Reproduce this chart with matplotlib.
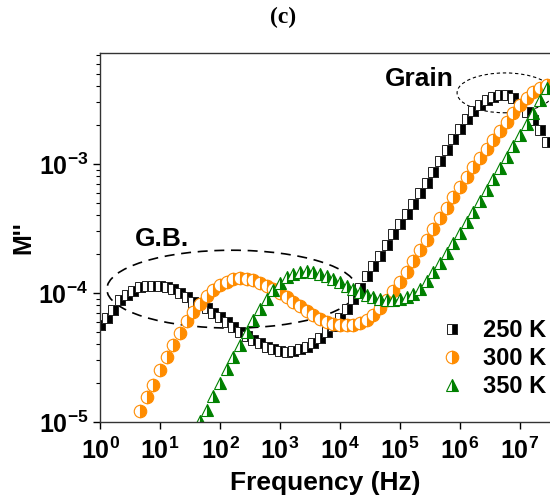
import matplotlib
matplotlib.use('Agg')
import matplotlib.pyplot as plt
from matplotlib.patches import Ellipse
import numpy as np

plt.rcParams['font.family'] = ['Liberation Sans', 'DejaVu Sans']
plt.rcParams['font.weight'] = 'bold'
plt.rcParams['mathtext.fontset'] = 'custom'
plt.rcParams['mathtext.rm'] = 'Liberation Sans:bold'
plt.rcParams['mathtext.it'] = 'Liberation Sans:bold'
plt.rcParams['mathtext.bf'] = 'Liberation Sans:bold'

nan = np.nan

# frequency grid (Hz)
freq = [1.0, 1.29, 1.67, 2.15, 2.78, 3.59, 4.64, 5.99, 7.74,
        10.0, 12.9, 16.7, 21.5, 27.8, 35.9, 46.4, 59.9, 77.4,
        100, 129, 167, 215, 278, 359, 464, 599, 774,
        1.0e3, 1.29e3, 1.67e3, 2.15e3, 2.78e3, 3.59e3, 4.64e3, 5.99e3, 7.74e3,
        1.0e4, 1.29e4, 1.67e4, 2.15e4, 2.78e4, 3.59e4, 4.64e4, 5.99e4, 7.74e4,
        1.0e5, 1.29e5, 1.67e5, 2.15e5, 2.78e5, 3.59e5, 4.64e5, 5.99e5, 7.74e5,
        1.0e6, 1.29e6, 1.67e6, 2.15e6, 2.78e6, 3.59e6, 4.64e6, 5.99e6, 7.74e6,
        1.0e7, 1.29e7, 1.67e7, 2.15e7, 2.78e7]

# M'' at 250 K
m_250 = [5.65e-5, 6.40e-5, 7.38e-5, 8.83e-5, 9.64e-5, 1.038e-4, 1.114e-4, 1.132e-4, 1.132e-4,
         1.132e-4, 1.114e-4, 1.074e-4, 1.000e-4, 9.31e-5, 8.51e-5, 8.07e-5, 7.66e-5, 7.00e-5,
         6.52e-5, 5.96e-5, 5.44e-5, 4.99e-5, 4.65e-5, 4.33e-5, 4.09e-5, 3.81e-5, 3.68e-5,
         3.55e-5, 3.49e-5, 3.55e-5, 3.68e-5, 3.81e-5, 4.09e-5, 4.48e-5, 4.99e-5, 5.55e-5,
         6.40e-5, 7.52e-5, 8.97e-5, 1.094e-4, 1.355e-4, 1.618e-4, 1.936e-4, 2.355e-4, 2.864e-4,
         3.43e-4, 4.09e-4, 4.90e-4, 5.96e-4, 7.13e-4, 8.67e-4, 1.054e-3, 1.285e-3, 1.563e-3,
         1.866e-3, 2.234e-3, 2.576e-3, 2.864e-3, 3.13e-3, 3.30e-3, 3.43e-3, 3.43e-3, 3.25e-3,
         2.92e-3, 2.53e-3, 2.19e-3, 1.84e-3, 1.48e-3]

# M'' at 300 K
m_300 = [nan, nan, nan, nan, nan, nan, 1.216e-5, 1.563e-5, 1.936e-5,
         2.53e-5, 3.19e-5, 3.95e-5, 4.90e-5, 6.07e-5, 7.13e-5, 8.22e-5, 9.48e-5, 1.054e-4,
         1.153e-4, 1.216e-4, 1.285e-4, 1.306e-4, 1.285e-4, 1.262e-4, 1.197e-4, 1.132e-4, 1.074e-4,
         1.000e-4, 9.31e-5, 8.51e-5, 7.93e-5, 7.24e-5, 6.75e-5, 6.28e-5, 5.96e-5, 5.75e-5,
         5.65e-5, 5.65e-5, 5.65e-5, 5.85e-5, 6.18e-5, 6.75e-5, 7.66e-5, 8.83e-5, 1.038e-4,
         1.216e-4, 1.455e-4, 1.770e-4, 2.153e-4, 2.576e-4, 3.13e-4, 3.81e-4, 4.56e-4, 5.55e-4,
         6.64e-4, 7.93e-4, 9.48e-4, 1.114e-3, 1.306e-3, 1.535e-3, 1.803e-3, 2.118e-3, 2.48e-3,
         2.86e-3, 3.25e-3, 3.61e-3, 3.88e-3, 4.09e-3]

# M'' at 350 K
m_350 = [nan, nan, nan, nan, nan, nan, nan, nan, nan,
         nan, nan, nan, nan, nan, nan, 1.019e-5, 1.239e-5, 1.592e-5,
         2.00e-5, 2.58e-5, 3.19e-5, 3.95e-5, 4.99e-5, 6.18e-5, 7.52e-5, 8.97e-5, 1.054e-4,
         1.197e-4, 1.331e-4, 1.403e-4, 1.455e-4, 1.483e-4, 1.455e-4, 1.403e-4, 1.355e-4, 1.285e-4,
         1.216e-4, 1.132e-4, 1.074e-4, 1.018e-4, 9.64e-5, 9.31e-5, 8.97e-5, 8.83e-5, 8.83e-5,
         8.97e-5, 9.31e-5, 9.82e-5, 1.074e-4, 1.238e-4, 1.455e-4, 1.710e-4, 2.04e-4, 2.44e-4,
         2.92e-4, 3.55e-4, 4.25e-4, 5.16e-4, 6.28e-4, 7.65e-4, 9.31e-4, 1.132e-3, 1.379e-3,
         1.679e-3, 2.04e-3, 2.48e-3, 3.13e-3, 3.88e-3]

labels = ['250 K', '300 K', '350 K']

fig = plt.figure(figsize=(5.5, 5), dpi=100)
ax = fig.add_axes([0.182, 0.156, 0.818, 0.738])

ax.plot(freq, m_250, ls='none', marker='s', ms=6.5, fillstyle='right',
        markerfacecolor='black', markerfacecoloralt='white',
        markeredgecolor='#222222', markeredgewidth=0.7, label=labels[0])
ax.plot(freq, m_300, ls='none', marker='o', ms=9, fillstyle='right',
        markerfacecolor='#ff8c00', markerfacecoloralt='white',
        markeredgecolor='#ff8c00', markeredgewidth=0.8, label=labels[1])
ax.plot(freq, m_350, ls='none', marker='^', ms=8.5, fillstyle='right',
        markerfacecolor='#008000', markerfacecoloralt='white',
        markeredgecolor='#008000', markeredgewidth=0.8, label=labels[2])

ax.set_xscale('log')
ax.set_yscale('log')
ax.set_xlim(1, 10 ** 7.5)
ax.set_ylim(1e-5, 10 ** -2.14)
ax.set_xticks([1, 10, 100, 1e3, 1e4, 1e5, 1e6, 1e7])

ax.spines['right'].set_visible(False)
for s in ['left', 'bottom', 'top']:
    ax.spines[s].set_linewidth(1.0)
    ax.spines[s].set_color('#333333')
ax.tick_params(which='major', direction='out', length=5, width=1.0, labelsize=18,
               top=False, right=False)
ax.tick_params(axis='x', which='major', pad=6)
ax.tick_params(which='minor', direction='out', length=3, width=0.8,
               top=False, right=False)

ax.set_xlabel('Frequency (Hz)', fontsize=19, fontweight='bold', labelpad=5)
ax.set_ylabel("M''", fontsize=18, fontweight='bold', labelpad=2)

# dashed ellipses marking G.B. and grain relaxations
ax.add_patch(Ellipse((0.293, 0.360), 0.556, 0.211, transform=ax.transAxes,
                     fill=False, ec='black', lw=1.2, ls=(0, (6, 4))))
ax.add_patch(Ellipse((0.9, 0.892), 0.213, 0.108, transform=ax.transAxes,
                     fill=False, ec='black', lw=0.8, ls=(0, (3, 2.5)), clip_on=False))
ax.text(0.138, 0.496, 'G.B.', transform=ax.transAxes, fontsize=19,
        fontweight='bold', ha='center', va='center')
ax.text(0.709, 0.93, 'Grain', transform=ax.transAxes, fontsize=19,
        fontweight='bold', ha='center', va='center')

ax.legend(loc='center left', bbox_to_anchor=(0.735, 0.172), frameon=False,
          fontsize=17, handlelength=1.0, handletextpad=0.8, labelspacing=0.22,
          borderaxespad=0)

fig.text(0.515, 0.965, '(c)', family='Liberation Serif', fontsize=17,
         fontweight='bold', ha='center', va='center')

fig.savefig('out.png', dpi=100)
